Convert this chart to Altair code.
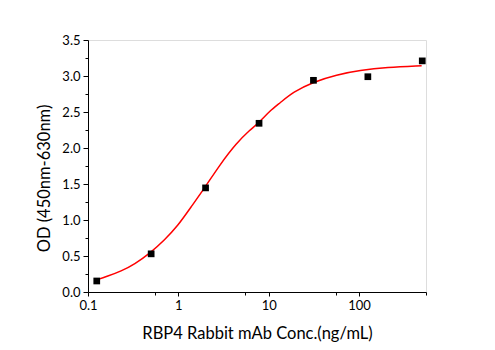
import altair as alt
import pandas as pd

# Measured points
conc = [0.125, 0.5, 2, 7.8125, 31.25, 125, 500]
od = [0.153, 0.53, 1.446, 2.343, 2.94, 2.99, 3.21]

# Fitted curve
curve_x = [0.12, 0.165, 0.232, 0.327, 0.486, 0.70, 0.98, 1.38, 1.96, 2.87, 4.39, 6.18, 7.7,
           10.3, 13.3, 18.6, 31.0, 56.4, 102, 202, 492]
curve_y = [0.163, 0.219, 0.288, 0.386, 0.539, 0.72, 0.915, 1.18, 1.449, 1.765, 2.067, 2.25, 2.345,
           2.517, 2.624, 2.777, 2.916, 3.018, 3.078, 3.12, 3.143]

x_major = [0.1, 1, 10, 100]
x_minor = [0.55, 5.5, 55, 550]
y_major = [0, 0.5, 1.0, 1.5, 2.0, 2.5, 3.0, 3.5]
y_minor = [0.25, 0.75, 1.25, 1.75, 2.25, 2.75, 3.25]

pts = pd.DataFrame({"conc": conc, "od": od})
crv = pd.DataFrame({"conc": curve_x, "od": curve_y})

FONT = "Lato"
xscale = alt.Scale(type="log", domain=[0.1, 550], nice=False)
yscale = alt.Scale(domain=[0, 3.5], nice=False, zero=False)

x_axis = alt.Axis(values=x_major, format="~g", title="RBP4 Rabbit mAb Conc.(ng/mL)",
                  grid=False, tickSize=4, labelPadding=3, titlePadding=13,
                  domainColor="black", tickColor="black", labelColor="black",
                  labelFontSize=13, titleFontSize=16.5, titleFontWeight="normal",
                  labelFont=FONT, titleFont=FONT, titleColor="black", orient="bottom",
                  labelFlush=False)
y_axis = alt.Axis(values=y_major, format=".1f", title="OD (450nm-630nm)",
                  grid=False, tickSize=5, labelPadding=3, titlePadding=9,
                  domainColor="black", tickColor="black", labelColor="black",
                  labelFontSize=13, titleFontSize=16.5, titleFontWeight="normal",
                  labelFont=FONT, titleFont=FONT, titleColor="black", orient="left",
                  labelFlush=False, titleY=138)

x_minor_axis = alt.Axis(values=x_minor, labels=False, domain=False, grid=False,
                        tickSize=3, tickColor="black", title="", orient="bottom")
y_minor_axis = alt.Axis(values=y_minor, labels=False, domain=False, grid=False,
                        tickSize=3, tickColor="black", title="", orient="left")

points = alt.Chart(pts).mark_square(size=45, color="black", opacity=1).encode(
    x=alt.X("conc:Q", scale=xscale, axis=x_axis),
    y=alt.Y("od:Q", scale=yscale, axis=y_axis),
)

curve = alt.Chart(crv).mark_line(color="#ff0000", strokeWidth=1.5, interpolate="basis").encode(
    x=alt.X("conc:Q", scale=xscale, axis=x_minor_axis),
    y=alt.Y("od:Q", scale=yscale, axis=y_minor_axis),
)

chart = alt.layer(curve, points).resolve_axis(x="independent", y="independent").properties(
    width=338, height=252,
    autosize=alt.AutoSizeParams(type="none"),
    padding={"left": 88, "top": 40, "right": 69, "bottom": 58},
).configure_view(stroke=None).configure(background="white")

chart.save("out.html", embed_options={"renderer": "svg", "actions": False})
